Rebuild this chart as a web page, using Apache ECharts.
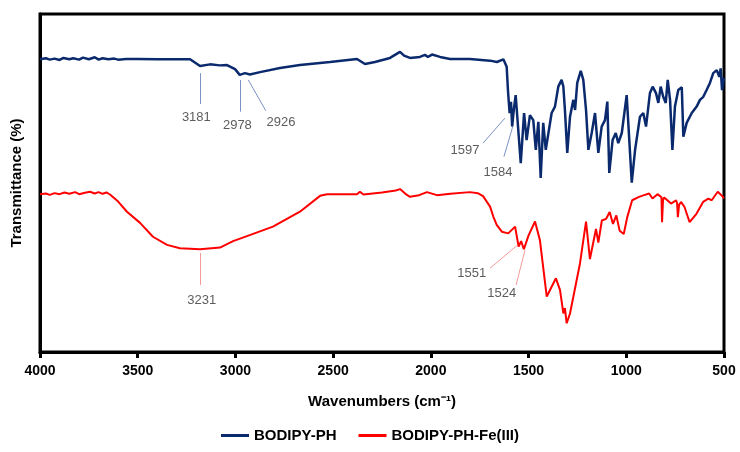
<!DOCTYPE html>
<html>
<head>
<meta charset="utf-8">
<script src="https://cdn.jsdelivr.net/npm/echarts@6/dist/echarts.min.js"></script>
<style>
  html, body { margin: 0; padding: 0; background: #fff; }
  #main { width: 740px; height: 452px; }
</style>
</head>
<body>
<div id="main"></div>
<script>
// wavenumber ticks
var xTicks = [4000, 3500, 3000, 2500, 2000, 1500, 1000, 500];

// BODIPY-PH spectrum (wavenumber, transmittance in arbitrary %)
var blueWave = [4000, 3970, 3950, 3925, 3900, 3880, 3850, 3830, 3800, 3780, 3750, 3720, 3700,
  3680, 3650, 3620, 3600, 3560, 3500, 3400, 3300, 3232,
  3181, 3130, 3080, 3043, 3002, 2978, 2951, 2926, 2874, 2772, 2670, 2516, 2378, 2337, 2286,
  2209, 2158, 2137, 2107, 2056, 2030, 2015, 1994, 1953, 1902, 1800, 1697, 1662, 1629,
  1612, 1605, 1597, 1590, 1584, 1575, 1566, 1540, 1523, 1510, 1493, 1476, 1463, 1450, 1438,
  1425, 1412, 1382, 1365, 1348, 1331, 1322, 1314, 1302, 1288, 1271, 1262, 1251, 1233, 1220,
  1206, 1194, 1177, 1160, 1143, 1126, 1109, 1097, 1087, 1070, 1054, 1041, 1023, 998, 972,
  955, 930, 913, 899, 879, 865, 848, 836, 824, 811, 798, 788, 776, 764, 751, 734, 716, 708,
  691, 665, 640, 623, 606, 589, 572, 555, 537, 524, 517, 510, 500];
var blueT = [86.6, 86.9, 86.5, 86.8, 86.4, 87.0, 86.6, 86.9, 86.5, 87.1, 86.6, 87.2, 86.5,
  86.9, 86.6, 86.8, 86.5, 86.7, 86.7, 86.6, 86.6, 86.6,
  84.6, 85.1, 84.8, 84.9, 83.7, 82.0, 82.5, 82.1, 82.8, 84.0, 84.9, 85.8, 86.7, 85.2, 85.8,
  87.0, 88.8, 87.7, 87.0, 87.3, 87.9, 87.3, 88.0, 87.3, 86.7, 86.7, 86.2, 85.8, 86.6,
  84.4, 77.0, 70.7, 74.0, 66.7, 72.0, 76.0, 55.9, 70.7, 62.7, 70.1, 68.6, 59.8, 68.1, 51.5,
  67.8, 59.8, 70.7, 72.6, 78.5, 80.5, 78.5, 71.6, 58.9, 69.6, 74.6, 71.6, 79.6, 83.2, 80.5,
  71.6, 59.8, 64.8, 70.7, 58.9, 66.7, 68.6, 74.1, 53.0, 62.7, 64.8, 61.8, 64.8, 76.0, 50.1,
  59.8, 69.6, 70.7, 66.7, 76.6, 78.5, 76.6, 73.7, 78.5, 75.5, 73.7, 80.5, 74.6, 59.8, 72.6,
  77.5, 78.3, 63.7, 67.8, 70.7, 72.6, 74.6, 75.5, 77.5, 79.6, 82.5, 83.4, 81.4, 83.9, 77.5, 81.1];

// BODIPY-PH-Fe(III) spectrum
var redWave = [4000, 3970, 3950, 3925, 3900, 3875, 3850, 3820, 3800, 3770, 3744, 3720, 3700,
  3680, 3660, 3642, 3600, 3555, 3488, 3422,
  3350, 3284, 3181, 3079, 3012, 2941, 2808, 2670, 2567, 2531, 2378, 2363, 2345, 2250, 2180,
  2158, 2130, 2107, 2060, 2020, 1969, 1900, 1800, 1760, 1733, 1697, 1680, 1663, 1637, 1604,
  1569, 1551, 1538, 1524, 1500, 1467, 1442, 1407, 1382, 1360, 1339, 1322, 1314, 1305, 1288,
  1237, 1206, 1186, 1155, 1143, 1125, 1103, 1085, 1068, 1051, 1034, 1013, 995, 970, 935, 909,
  883, 866, 840, 820, 817, 812, 806, 771, 745, 740, 736, 730, 720, 702, 676, 641, 607, 580,
  563, 532, 508, 500];
var redT = [46.7, 46.9, 46.5, 47.0, 46.7, 47.2, 46.8, 47.3, 46.7, 47.1, 47.4, 46.9, 47.3,
  46.8, 47.2, 46.6, 44.5, 41.5, 38.2, 34.1,
  31.7, 30.7, 30.4, 30.9, 32.8, 34.3, 37.1, 41.5, 46.2, 46.7, 46.7, 47.4, 46.6, 47.2, 47.8,
  48.2, 46.8, 45.9, 46.4, 47.3, 46.4, 46.8, 47.3, 47.0, 46.1, 43.0, 40.0, 37.6, 35.6, 35.1,
  37.1, 31.2, 32.8, 30.4, 34.5, 38.6, 33.1, 16.4, 19.3, 21.8, 18.3, 11.4, 13.0, 8.5, 11.4,
  26.2, 38.6, 27.5, 36.4, 32.4, 38.9, 39.4, 41.4, 37.9, 40.4, 35.9, 34.9, 39.9, 44.9, 45.9, 46.4,
  46.9, 45.4, 46.7, 45.8, 38.4, 45.0, 45.7, 43.9, 44.9, 44.0, 39.9, 43.5, 44.4, 42.9, 38.4, 40.9, 44.4, 45.4,
  44.9, 47.4, 46.1, 45.4];

// peak annotations: label text, leader line (from, to), label anchor
var bluePeaks = [
  { text: '3181', from: [3181, 82.5], to: [3181, 73.4], at: [3200, 69.5] },
  { text: '2978', from: [2973, 80.5], to: [2973, 71.1], at: [2990, 66.9] },
  { text: '2926', from: [2934, 80.5], to: [2845, 71.4], at: [2767, 68.0] },
  { text: '1597', from: [1621, 69.2], to: [1733, 61.8], at: [1825, 59.5] },
  { text: '1584', from: [1581, 66.7], to: [1626, 57.8], at: [1656, 53.0] }
];
var redPeaks = [
  { text: '3231', from: [3181, 29.3], to: [3181, 19.8], at: [3172, 15.2] },
  { text: '1551', from: [1561, 31.4], to: [1697, 24.8], at: [1791, 23.3] },
  { text: '1524', from: [1518, 30.2], to: [1564, 19.8], at: [1637, 17.4] }
];

var blueColor = '#0b2a6e';
var redColor = '#ff0000';

function zip(a, b) {
  return a.map(function (x, i) { return [x, b[i]]; });
}
function leaders(peaks) {
  return peaks.map(function (p) {
    return [{ coord: p.from }, { coord: p.to }];
  });
}
function labels(peaks) {
  return peaks.map(function (p) { return { value: p.at, name: p.text }; });
}

var myChart = echarts.init(document.getElementById('main'));
myChart.setOption({
  animation: false,
  grid: {
    left: 40, right: 16, top: 14, bottom: 100,
    show: true, borderColor: '#000', borderWidth: 3
  },
  legend: {
    bottom: 4,
    left: 'center',
    icon: 'rect',
    itemWidth: 28,
    itemHeight: 3,
    itemGap: 22,
    data: ['BODIPY-PH', 'BODIPY-PH-Fe(III)'],
    textStyle: { fontFamily: 'Liberation Sans', fontWeight: 'bold', fontSize: 15, color: '#000' }
  },
  xAxis: {
    type: 'value',
    inverse: true,
    min: 500,
    max: 4000,
    interval: 500,
    name: 'Wavenumbers (cm⁻¹)',
    nameLocation: 'middle',
    nameGap: 42,
    nameTextStyle: { fontFamily: 'Liberation Sans', fontWeight: 'bold', fontSize: 15, color: '#000' },
    axisLine: { lineStyle: { color: '#000', width: 3 } },
    axisTick: { show: true, inside: false, length: 6, lineStyle: { color: '#000', width: 3 } },
    axisLabel: {
      margin: 12,
      fontFamily: 'Liberation Sans', fontWeight: 'bold', fontSize: 14, color: '#000',
      formatter: function (v) { return String(v); }
    },
    splitLine: { show: false }
  },
  yAxis: {
    type: 'value',
    min: 0,
    max: 100,
    name: 'Transmittance (%)',
    nameLocation: 'middle',
    nameGap: 16,
    nameTextStyle: { fontFamily: 'Liberation Sans', fontWeight: 'bold', fontSize: 15, color: '#000' },
    axisLine: { show: true, lineStyle: { color: '#000', width: 3 } },
    axisTick: { show: false },
    axisLabel: { show: false },
    splitLine: { show: false }
  },
  series: [
    {
      name: 'BODIPY-PH',
      type: 'line',
      symbol: 'none',
      color: blueColor,
      lineStyle: { width: 2.5, color: blueColor },
      data: zip(blueWave, blueT),
      markLine: {
        silent: true,
        symbol: ['none', 'none'],
        label: { show: false },
        lineStyle: { color: '#7b93c2', width: 1, type: 'solid' },
        data: leaders(bluePeaks)
      }
    },
    {
      name: 'BODIPY-PH-Fe(III)',
      type: 'line',
      symbol: 'none',
      color: redColor,
      lineStyle: { width: 2, color: redColor },
      data: zip(redWave, redT),
      markLine: {
        silent: true,
        symbol: ['none', 'none'],
        label: { show: false },
        lineStyle: { color: '#f59a9a', width: 1, type: 'solid' },
        data: leaders(redPeaks)
      }
    },
    {
      name: 'peakLabels',
      type: 'scatter',
      symbolSize: 1,
      itemStyle: { color: 'rgba(0,0,0,0)' },
      silent: true,
      label: {
        show: true,
        position: 'inside',
        formatter: '{b}',
        fontFamily: 'Liberation Sans',
        fontSize: 13,
        color: '#333'
      },
      data: labels(bluePeaks).concat(labels(redPeaks))
    }
  ]
});
</script>
</body>
</html>
